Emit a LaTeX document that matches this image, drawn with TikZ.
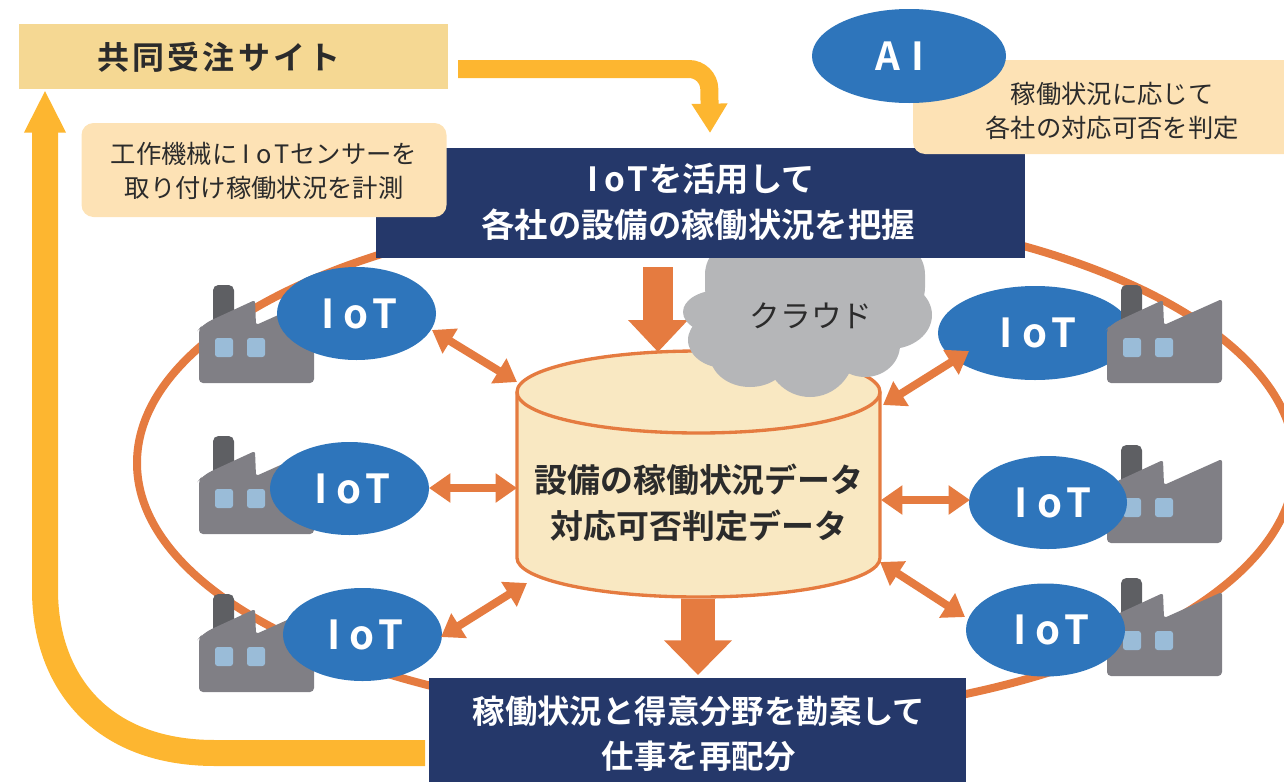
\documentclass[tikz,border=0pt]{standalone}
\usepackage{fontspec}
\setmainfont{Noto Sans CJK JP}
\newfontfamily\boldcjk{Noto Sans CJK JP Bold}
\newfontfamily\sitecjk[LetterSpace=10]{Noto Sans CJK JP Bold}
\usetikzlibrary{arrows.meta,shapes.geometric}
\definecolor{navy}{HTML}{25386A}
\definecolor{org}{HTML}{E57B40}
\definecolor{yel}{HTML}{FDB630}
\definecolor{blu}{HTML}{2E75BB}
\definecolor{pale}{HTML}{FDE2B5}
\definecolor{tan}{HTML}{F5D893}
\definecolor{cream}{HTML}{F9E8C2}
\definecolor{fgray}{HTML}{807F85}
\definecolor{chim}{HTML}{5E5F63}
\definecolor{win}{HTML}{9ABCD8}
\definecolor{cloudc}{HTML}{B5B6B8}
\definecolor{ink}{HTML}{2B2B2B}
\newcommand\iotcells[1]{\makebox[#1]{I}\makebox[#1]{o}\makebox[#1]{T}}
\tikzset{
  x=0.75pt,y=-0.75pt,
  iot/.style={ellipse,fill=blu,text=white,inner sep=0pt,minimum width=#1*0.75pt,minimum height=93*0.75pt,font=\boldcjk\fontsize{30}{32}\selectfont},
  navybox/.style={fill=navy,inner sep=0pt},
  navytext/.style={text=white,align=center,font=\boldcjk\fontsize{25}{34.5}\selectfont},
  palebox/.style={fill=pale,rounded corners=9pt,inner sep=0pt},
  paletext/.style={align=center,text=ink,font=\fontsize{19}{25}\selectfont},
  dbl/.style={org,line width=6pt,{Triangle[length=16pt,width=21pt]}-{Triangle[length=16pt,width=21pt]}},
  factory/.pic={
    \fill[chim,rounded corners=4pt] (14,-40) -- (14,-98) -- (35,-98) -- (35,-50) -- cycle;
    \fill[fgray,rounded corners=3pt] (0,0) -- (0,-54) [rounded corners=7pt] -- (4,-59) [rounded corners=2pt] -- (56,-83) -- (57,-58) -- (115,-84) [rounded corners=3pt] -- (115,0) -- cycle;
    \fill[win,rounded corners=2pt] (16,-45) rectangle (34,-26);
    \fill[win,rounded corners=2pt] (48,-45) rectangle (66,-26);
  }
}
\begin{document}
\begin{tikzpicture}
\useasboundingbox (0,0) rectangle (1284,782);
\begin{scope}
\clip (0,0) rectangle (1284,782);
\draw[org,line width=6pt] (716,463) ellipse [x radius=579,y radius=256];
\end{scope}
% factories behind their ellipses
\path (199,383) pic {factory};
\path (199,534) pic {factory};
\path (199,692) pic {factory};
\path (1107,543) pic {factory};
\path (1107,676) pic {factory};
% cylinder
\path[fill=cream,draw=org,line width=2.5pt] (517,392) -- (517,558) arc[start angle=180,end angle=0,x radius=181.5,y radius=39] -- (880,392) arc[start angle=0,end angle=-180,x radius=181.5,y radius=41] -- cycle;
\draw[org,line width=2.5pt] (517,392) arc[start angle=180,end angle=0,x radius=181.5,y radius=41];
\node[align=center,font=\boldcjk\fontsize{24.7}{34.5}\selectfont,text=ink] (db) at (699,503) {設備の稼働状況データ\\対応可否判定データ};
% big arrows
\coordinate (t1) at (658,267);
\coordinate (t2) at (658,352);
\draw[org,line width=22.5pt,-{Triangle[length=24pt,width=43.5pt]}] (t1) -- (t2);
% cloud
\fill[cloudc,rounded corners=26pt] (705,240) -- (705,322) -- (925,322) -- (925,240) -- cycle;
\fill[cloudc] (720,312) ellipse [x radius=37,y radius=22];
\fill[cloudc] (725,340) ellipse [x radius=37,y radius=28];
\fill[cloudc] (750,355) ellipse [x radius=40,y radius=32];
\fill[cloudc] (810,350) ellipse [x radius=45,y radius=47];
\fill[cloudc] (865,345) ellipse [x radius=35,y radius=32];
\fill[cloudc] (890,315) ellipse [x radius=42,y radius=34];
\fill[cloudc] (800,320) ellipse [x radius=90,y radius=50];
\node[font=\fontsize{23}{28}\selectfont,text=ink] (cloudt) at (811,316) {クラウド};
% boxes
\node[fill=tan,minimum width=429*0.75pt,minimum height=65*0.75pt,inner sep=0pt] (site) at (233.5,56.5) {};
\node[font=\sitecjk\fontsize{24}{28}\selectfont,text=ink] (sitet) at (219,57) {共同受注サイト};
\node[navybox,minimum width=649*0.75pt,minimum height=110*0.75pt] (iotbox) at (700.5,203) {};
\node[navytext] (iott) at (698,202) {\iotcells{.68em}を活用して\\各社の設備の稼働状況を把握};
\node[navybox,minimum width=537*0.75pt,minimum height=104*0.75pt] (redist) at (697.5,730) {};
\node[navytext,font=\boldcjk\fontsize{24.3}{33.8}\selectfont] (redt) at (699,734) {稼働状況と得意分野を勘案して\\仕事を再配分};
\coordinate (b1) at (698,599);
\coordinate (b2) at (698,675);
\draw[org,line width=25pt,-{Triangle[length=26pt,width=49.5pt]}] (b1) -- (b2);
% yellow connectors
\coordinate (y1) at (458,69);
\coordinate (y2) at (710,133);
\draw[yel,line width=13.5pt,rounded corners=15pt,-{Triangle[length=22pt,width=25.5pt]}] (y1) -- (709,69) -- (710,133);
\coordinate (y3) at (425,753);
\coordinate (y4) at (45,90);
\draw[yel,line width=19.5pt,-{Triangle[length=32pt,width=29pt]}] (y3) -- (215,753) .. controls (100,753) and (45,680) .. (45,590) -- (y4);
% pale boxes
\node[palebox,minimum width=365*0.75pt,minimum height=94*0.75pt] (note1) at (264,170) {};
\node[paletext] (note1t) at (264,171) {工作機械に\iotcells{.7em}センサーを\\取り付け稼働状況を計測};
\fill[pale,rounded corners=9pt] (913,60) -- (913,154) -- (1300,154) -- (1300,60) -- cycle;
\node[paletext] (note2) at (1112,111) {稼働状況に応じて\\各社の対応可否を判定};
\node[ellipse,fill=blu,text=white,inner sep=0pt,minimum width=194*0.75pt,minimum height=94*0.75pt,font=\boldcjk\fontsize{29}{32}\selectfont] (ai) at (909,56) {\makebox[22pt]{A}\makebox[22pt]{I}\kern9pt};
% IoT ellipses
\node[iot=159] (a) at (356.5,313.5) {\iotcells{21.4pt}};
\node[iot=159] (b) at (349.5,488.5) {\iotcells{21.4pt}};
\node[iot=159] (c) at (362.5,634.5) {\iotcells{21.4pt}};
\node[iot=194,minimum height=94*0.75pt] (d) at (1035,333) {\iotcells{21.4pt}};
\node[iot=158] (e) at (1048,502.5) {\kern3pt\iotcells{21.4pt}};
\node[iot=159] (f) at (1045.5,630) {\kern4pt\iotcells{21.4pt}};
\path (1107,383) pic {factory};
% double arrows
\coordinate (ca) at (517,382);\coordinate (ia) at (432,330);
\coordinate (cb) at (517,488);\coordinate (ib) at (429,488);
\coordinate (cc) at (527,583);\coordinate (ic) at (441,637);
\coordinate (cd) at (883,405);\coordinate (id) at (969,351);
\coordinate (ce) at (881,500);\coordinate (ie) at (970,500);
\coordinate (cf) at (880,562);\coordinate (if) at (965,617);
\draw[dbl] (ia) -- (ca);
\draw[dbl] (ib) -- (cb);
\draw[dbl] (ic) -- (cc);
\draw[dbl] (id) -- (cd);
\draw[dbl] (ie) -- (ce);
\draw[dbl] (if) -- (cf);
\end{tikzpicture}
\end{document}
